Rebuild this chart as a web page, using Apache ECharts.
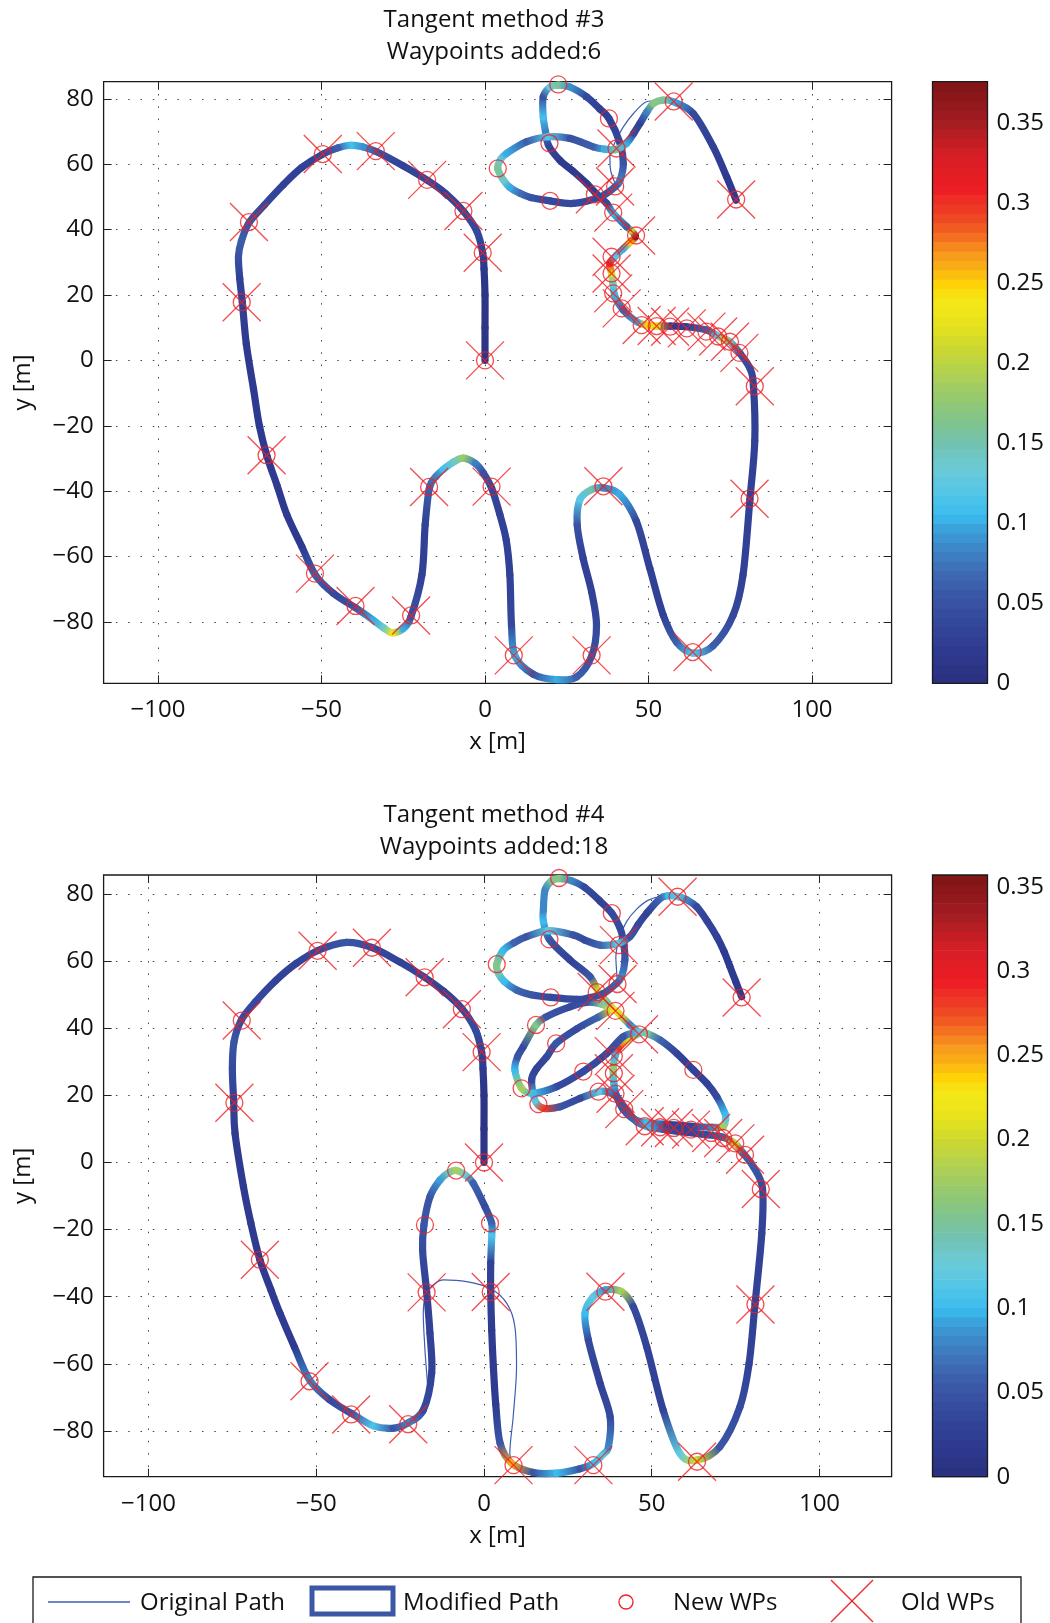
<!DOCTYPE html>
<html><head><meta charset="utf-8">
<script src="https://cdn.jsdelivr.net/npm/echarts@6/dist/echarts.min.js"></script>
<style>html,body{margin:0;padding:0;background:#fff}#chart{width:1050px;height:1623px}</style>
</head><body><div id="chart"></div>
<script>
// ---------------- DATA ----------------
const titles = ['Tangent method #3\nWaypoints added:6', 'Tangent method #4\nWaypoints added:18'];
const xTickValues = [-100, -50, 0, 50, 100];
const yTickValues = [-80, -60, -40, -20, 0, 20, 40, 60, 80];
const cbTickValues = [0, 0.05, 0.1, 0.15, 0.2, 0.25, 0.3, 0.35];
const cbMax = [0.376, 0.357];
const legendNames = ['Original Path', 'Modified Path', 'New WPs', 'Old WPs'];

// modified path, plot #3 : [x, y, value]
const pathTop = [
[0,0,0.01],[0,10,0.01],[0,20,0.01],[-0.3,28,0.015],[-0.7,32.9,0.03],[-2.5,39.5,0.04],[-6.6,45.6,0.04],[-12,51,0.03],[-17.5,55,0.04],[-25,59.5,0.03],[-33.3,63.9,0.05],[-37.5,65.3,0.09],[-41.2,65.8,0.11],[-45,65,0.06],[-49.6,63.1,0.04],[-56,59,0.03],[-61.6,53.8,0.03],[-67.5,47.5,0.04],[-72.1,42.2,0.05],[-74.5,36.5,0.06],[-75.4,31.8,0.05],[-75,25,0.03],[-74.2,17.7,0.03],[-73,5,0.02],[-70.8,-8.7,0.02],[-69,-20,0.02],[-66.7,-29.2,0.02],[-63.5,-38.5,0.02],[-60.6,-47.2,0.02],[-56,-57,0.02],[-51.9,-65.6,0.06],[-46.3,-71.3,0.04],[-39.7,-75.6,0.05],[-34.1,-79.5,0.1],[-31,-81.8,0.14],[-28.2,-83.3,0.23],[-25,-82,0.1],[-22.7,-78.5,0.05],[-19.3,-65.6,0.03],[-18.3,-50.3,0.03],[-17,-39,0.06],[-15,-35.5,0.08],[-12.7,-33.3,0.11],[-9.5,-31,0.14],[-6.6,-29.9,0.18],[-3,-31.5,0.08],[-0.5,-34.4,0.05],[2,-39,0.04],[4.5,-47,0.03],[6.5,-55,0.03],[7.6,-65.6,0.03],[8.1,-81,0.04],[9.2,-90.5,0.1],[14.8,-96,0.05],[21.9,-97.6,0.1],[28,-96.8,0.06],[32.6,-90.5,0.05],[34.1,-81,0.04],[32.6,-70.8,0.03],[30,-60.5,0.03],[28.2,-50.3,0.05],[29,-42.6,0.12],[32.6,-39.5,0.15],[36.4,-39,0.08],[41.2,-41,0.1],[46.3,-49.2,0.04],[50.4,-63.6,0.03],[54.5,-77.9,0.03],[58.6,-86.2,0.06],[63.6,-89.5,0.12],[69.8,-87.2,0.06],[75.9,-77.9,0.04],[78.9,-65.6,0.03],[81,-42.6,0.03],[82.5,-24.6,0.03],[82.1,-8,0.03],[81,-2.4,0.04],[78,2.1,0.05],[74.9,5.7,0.15],[72.5,6.8,0.2],[70.8,7.7,0.12],[67.7,9.3,0.06],[61.7,10.3,0.03],[56.6,10.5,0.02],[52.5,10.5,0.22],[49.4,10.8,0.25],[46.4,11.8,0.1],[42.3,15.4,0.06],[39.8,19.4,0.1],[39.1,23.5,0.14],[38.7,26.6,0.22],[38.2,29.7,0.31],[40,32,0.12],[42.3,34.2,0.1],[44.5,36.3,0.25],[46,37.9,0.36],[44.6,39.8,0.2],[43.3,40.9,0.06],[39.2,45,0.1],[37.2,48,0.04],[34,51,0.03],[31.1,54.1,0.02],[27,57.8,0.02],[22.8,61.3,0.02],[19.4,65.8,0.04],[18.5,70,0.08],[17.8,74.5,0.11],[17.8,80.6,0.05],[19.9,83.6,0.13],[22.4,84.2,0.16],[26,83.6,0.09],[31.1,80.6,0.04],[35,77,0.03],[37.9,74,0.03],[41.3,66.4,0.04],[42.3,60.2,0.05],[41.3,55.1,0.08],[39.8,53.1,0.06],[35.2,50,0.04],[27,48,0.04],[19.9,48.8,0.04],[14,49.8,0.05],[10.7,51.1,0.07],[7.5,53,0.1],[5.6,55.2,0.14],[3.9,58.7,0.16],[4.8,61.5,0.13],[6.6,63.3,0.1],[12.8,66.9,0.06],[19.4,68.4,0.12],[26,67.9,0.05],[33.1,65.3,0.06],[36.5,64.6,0.1],[40,64.5,0.15],[43.3,66.4,0.1],[45.5,69.5,0.04],[47.4,72.5,0.03],[49.5,76,0.08],[51.5,78.6,0.17],[54.5,79.6,0.16],[57.6,79.1,0.1],[63.7,75.5,0.04],[69.8,65.3,0.03],[73.9,56.1,0.02],[76.8,49,0.02]
];

// modified path, plot #4 : [x, y, value]
const pathBottom = [
[0,0,0.01],[0,10,0.01],[0,20,0.01],[-0.3,28,0.02],[-0.7,32.9,0.03],[-2.5,39.5,0.04],[-6.6,45.9,0.04],[-12,51,0.03],[-18,55.4,0.04],[-25,59.7,0.03],[-33.5,64.1,0.04],[-41,65.6,0.05],[-49.5,63.2,0.04],[-56,59.3,0.03],[-62,54.3,0.03],[-68,48,0.04],[-72.3,42.5,0.04],[-74.5,36,0.05],[-75,28,0.04],[-74.6,18.1,0.03],[-74.2,8.7,0.02],[-71.7,-7.2,0.02],[-69.5,-18,0.02],[-66.8,-29,0.02],[-63.5,-38,0.02],[-60.8,-45,0.02],[-56.5,-55,0.02],[-52,-64.8,0.08],[-45.9,-70.8,0.04],[-39.5,-74.8,0.05],[-33,-78.5,0.11],[-27,-79.2,0.05],[-22.6,-77.6,0.08],[-18.1,-73.8,0.04],[-15.6,-62.8,0.03],[-16.1,-50.9,0.03],[-17.1,-38.5,0.03],[-18.3,-26.1,0.04],[-17.9,-18.6,0.05],[-16.1,-10.2,0.05],[-13.1,-5.2,0.09],[-10.5,-3,0.14],[-8.3,-2.4,0.18],[-5.5,-3.8,0.13],[-3.2,-6.2,0.06],[0.3,-13.2,0.04],[2.3,-18.1,0.06],[2.3,-22.1,0.11],[2,-30,0.03],[2,-38.5,0.03],[2.3,-50,0.02],[2.8,-60.9,0.02],[3.5,-72,0.02],[4.8,-83.7,0.05],[8.3,-89.7,0.25],[14.7,-92.4,0.05],[21.7,-92.6,0.1],[28.6,-91.3,0.05],[32.6,-89.7,0.1],[35.5,-87,0.12],[37.1,-84.7,0.08],[37.6,-75.8,0.04],[34.6,-65.8,0.03],[31.1,-52.9,0.04],[30.1,-44.9,0.1],[32.6,-40,0.12],[36.1,-38,0.09],[41,-38.5,0.18],[44.5,-43,0.04],[48.5,-54.9,0.03],[53.4,-73.8,0.03],[58.4,-86.7,0.12],[63.4,-88.7,0.2],[70.3,-84.7,0.05],[76.3,-72.8,0.04],[79,-60,0.03],[80.8,-42,0.03],[82.8,-21.1,0.03],[83,-7.7,0.04],[80.3,-1.3,0.05],[77.3,2.7,0.06],[74.8,5.7,0.2],
[71,7.6,0.06],[66,8.3,0.04],[60,9,0.03],[54,9.8,0.04],[49,10.6,0.1],[45.5,12.2,0.06],[42,16.2,0.05],
[39.6,19.6,0.06],[36.6,21.1,0.08],[34.1,21.1,0.12],[28.6,19.1,0.04],[22.7,16.6,0.05],[17.7,16.2,0.28],[15.2,18.5,0.12],[14.2,24.6,0.04],[15.7,28,0.03],[18.7,31.5,0.04],[21.5,35.5,0.05],[27.6,39.8,0.04],[34,43.3,0.06],[38.5,45.5,0.23],
[41,43.5,0.2],[43.5,41,0.08],[46,38.5,0.15],
[42.5,36.5,0.2],[40,34,0.28],[39,31.5,0.1],[38.5,27.6,0.17],[38.7,23.6,0.1],[39.5,19.8,0.05],[41.5,15.8,0.05],[44.5,13,0.06],
[48.5,11.8,0.1],[54.5,11.4,0.03],[62,10.8,0.03],[68,10.5,0.08],[71.3,10.7,0.18],
[72,13,0.12],[71.8,14.7,0.1],[69.4,19.6,0.04],[66.5,23.5,0.03],[62.4,27.6,0.03],[57.5,32.5,0.03],[52.5,36.5,0.06],[48.5,38.5,0.15],[46,38.8,0.12],
[41.5,37.5,0.05],[36.6,32.5,0.04],[29.6,27.1,0.04],[21.7,22.6,0.04],[14.7,20.6,0.1],[11.2,22.1,0.18],[9.2,27.6,0.1],[10,31.5,0.05],[11.7,34.5,0.04],[15.5,41,0.16],[18.7,43.5,0.05],[25.6,46.4,0.04],[31,47.8,0.05],[35,47.2,0.15],[38.5,45.5,0.23],
[36.6,47.9,0.15],[34,51,0.22],[31.6,55.4,0.05],[25.6,60.4,0.03],[19.5,66.5,0.05],
[17.7,72,0.1],[17.7,75.3,0.08],[18.2,81.2,0.08],[20.2,84,0.15],[22.4,84.6,0.16],
[26,84,0.08],[30,82,0.04],[34.5,78,0.03],[38.1,74.3,0.04],[40.5,70,0.04],[41.5,66.3,0.04],[42,60.4,0.05],[41,55.4,0.08],[39.5,53.4,0.06],[35.6,50.4,0.05],[31,49,0.04],[27.6,48.6,0.04],[19.9,49.2,0.04],[14,50,0.05],[9.7,51.4,0.06],[6,54,0.1],[4.3,56.4,0.14],[3.8,59.1,0.16],[5.8,63.3,0.1],[9,65.5,0.06],[12.7,67.3,0.05],[19.2,69.1,0.12],[26.6,67.8,0.05],[30,66.3,0.04],[34.6,64.8,0.06],[40,65.3,0.12],[43.5,67.3,0.05],[46,71,0.04],[48.5,74.3,0.03],[52.5,78.7,0.06],[55,79.5,0.1],[57.9,79.2,0.12],[60.5,78.3,0.08],[63.4,76.2,0.04],[66.5,72,0.03],[69.4,67.3,0.03],[71.5,63,0.02],[73.3,58.4,0.02],[75,54,0.02],[76.8,49.4,0.02]
];

// original path (visible stretches; null = break)
const origTop = [[57.7,79.2],[53,79.4],[49.4,79.1],[45.4,75.5],[42.3,71.4],[39.8,66.8],[38.2,62.3],[38.4,58.2],[39.8,54.1]];
const origBottom = [[-22.6,-78],[-18.5,-73.5],[-16.6,-70.8],[-17.3,-60],[-17.6,-55.9],[-18.1,-45],[-17.1,-38.7],[-14.5,-36],[-12.1,-35],[-5.2,-35.5],[1.8,-37.5],[6.8,-42],[9.2,-48.9],[9.7,-60.9],[8.7,-75.8],[7.7,-86.7],[8.8,-90.2],null,
[57.7,79.2],[53,79.2],[49,78.2],[45.5,75.5],[42.5,71.8],[40.5,67.3],[39.3,61.3],[39.5,57.4],[39.8,53.4],null,
[39.2,45.2],[42,43],[44.5,41.2],[46.2,38.2]];

// old waypoints (same in both plots)
const oldWPs = [[0,0],[-0.7,32.9],[-6.6,45.7],[-17.7,55.2],[-33.4,64],[-49.6,63.1],[-72.2,42.3],[-74.4,17.8],[-66.8,-29],[-52,-65.2],[-39.6,-75.1],[-22.6,-78],[-17.1,-38.7],[2,-38.6],[8.8,-90.2],[32.6,-90.2],[36.2,-38.5],[63.5,-89.2],[80.9,-42.3],[82.5,-7.9],[77.8,2.3],[74.9,5.7],[71.3,7.3],[67.7,8.8],[61.7,9.8],[56.6,10.3],[52.5,10.5],[47.9,10.8],[41.8,15.9],[39.2,20.5],[38.7,26.6],[38.7,31.7],[46.2,38.2],[39.2,45.2],[33.6,50.8],[39.8,53.2],[40.2,64.8],[57.7,79.2],[76.8,49.2]];
// waypoints added by each method
const addedTop = [[22.4,84.4],[37.9,74],[19.7,66.4],[3.9,58.7],[19.9,48.8]];
const addedBottom = [[22.4,84.8],[38.1,74.3],[19.5,66.5],[3.8,59.1],[19.9,49.2],[15.5,41],[21.5,35.5],[11.2,22.1],[16.2,17.4],[29.6,27.1],[34.1,21.1],[62.4,27.6],[-8.3,-2.4],[-17.6,-18.6],[1.8,-18.1]];

// colour map (sampled from the colour bar)
const jetStops = [[0,'#2b2f7e'],[0.053,'#2e3a8f'],[0.106,'#34489c'],[0.146,'#3b57a6'],[0.186,'#3f6cb4'],[0.226,'#3d88c8'],[0.253,'#3b9dd8'],[0.279,'#3abbee'],[0.319,'#55c6e8'],[0.359,'#6ccbd6'],[0.399,'#72c2b0'],[0.439,'#82c48a'],[0.479,'#98ca6c'],[0.519,'#b2d150'],[0.559,'#cdd82e'],[0.598,'#e8e31e'],[0.638,'#f5e816'],[0.665,'#fed106'],[0.691,'#fbb116'],[0.718,'#f7941d'],[0.745,'#f36c21'],[0.771,'#ef4a24'],[0.824,'#ed1c24'],[0.878,'#d71f26'],[0.931,'#a51d22'],[1,'#7d1416']];

// ---------------- RENDER ----------------
const FONT = '"Open Sans", "Noto Sans", sans-serif';
const RED = '#ed2024';
const FS = 24;
function hexRgb(h){return [parseInt(h.substr(1,2),16),parseInt(h.substr(3,2),16),parseInt(h.substr(5,2),16)];}
function jet(f){
  f = Math.max(0, Math.min(1, f));
  for (let i = 0; i < jetStops.length - 1; i++) {
    const a = jetStops[i], b = jetStops[i+1];
    if (f <= b[0]) {
      const t = (f - a[0]) / (b[0] - a[0]);
      const ca = hexRgb(a[1]), cb = hexRgb(b[1]);
      return 'rgb(' + ca.map((c,k)=>Math.round(c + (cb[k]-c)*t)).join(',') + ')';
    }
  }
  return jetStops[jetStops.length-1][1];
}
const minus = v => String(v).replace('-', '\u2212');

const plotGrids = [
  {left: 103.6, top: 81.7, width: 788, height: 601.6, x: [-116.64, 124.34], y: [-98.75, 85.23]},
  {left: 103.6, top: 875, width: 788, height: 601.7, x: [-113.38, 121.49], y: [-93.65, 85.69]}
];
const cbLeft = 932.5, cbWidth = 55;

const grid = [], xAxis = [], yAxis = [], series = [], title = [];
const txt = {fontFamily: FONT, fontSize: FS, color: '#111'};
const noLine = {show: false, onZero: false};

plotGrids.forEach((g, p) => {
  grid.push({left: g.left, top: g.top, width: g.width, height: g.height, show: true, borderColor: '#1a1a1a', borderWidth: 1.3, backgroundColor: 'transparent'});
  const gi = grid.length - 1;
  const tick = {show: true, inside: true, length: 8, lineStyle: {color: '#222', width: 1}};
  xAxis.push({type: 'value', gridIndex: gi, position: 'bottom', min: g.x[0], max: g.x[1], splitNumber: 5,
    axisLine: noLine, axisTick: Object.assign({customValues: xTickValues}, tick),
    axisLabel: Object.assign({customValues: xTickValues, margin: 15, formatter: minus}, txt),
    splitLine: {show: true, lineStyle: {color: '#444', width: 1, type: [1.5, 10.8]}},
    name: 'x [m]', nameLocation: 'middle', nameGap: 47, nameTextStyle: txt});
  xAxis.push({type: 'value', gridIndex: gi, position: 'top', min: g.x[0], max: g.x[1],
    axisLine: noLine, axisTick: Object.assign({customValues: xTickValues}, tick), axisLabel: {show: false}, splitLine: {show: false}});
  yAxis.push({type: 'value', gridIndex: gi, position: 'left', min: g.y[0], max: g.y[1], splitNumber: 9,
    axisLine: noLine, axisTick: Object.assign({customValues: yTickValues}, tick),
    axisLabel: Object.assign({customValues: yTickValues, margin: 10, formatter: minus, padding: [8, 0, 0, 0]}, txt),
    splitLine: {show: true, lineStyle: {color: '#444', width: 1, type: [1.5, 10.8]}},
    name: 'y [m]', nameLocation: 'middle', nameGap: 68, nameRotate: 90, nameTextStyle: txt});
  yAxis.push({type: 'value', gridIndex: gi, position: 'right', min: g.y[0], max: g.y[1],
    axisLine: noLine, axisTick: Object.assign({customValues: yTickValues}, tick), axisLabel: {show: false}, splitLine: {show: false}});
});

// colour bars
plotGrids.forEach((g, p) => {
  grid.push({left: cbLeft, top: g.top, width: cbWidth, height: g.height, show: true, borderColor: '#1a1a1a', borderWidth: 1.3, backgroundColor: 'transparent', z: 5});
  const gi = grid.length - 1;
  const tick = {show: true, inside: true, length: 6, lineStyle: {color: '#222', width: 1}};
  xAxis.push({type: 'value', gridIndex: gi, min: 0, max: 1, show: false});
  yAxis.push({type: 'value', gridIndex: gi, position: 'right', min: 0, max: cbMax[p], interval: 0.05,
    axisLine: noLine, axisTick: Object.assign({customValues: cbTickValues}, tick),
    axisLabel: Object.assign({customValues: cbTickValues, margin: 9, padding: [8, 0, 0, 0]}, txt), splitLine: {show: false}});
  yAxis.push({type: 'value', gridIndex: gi, position: 'left', min: 0, max: cbMax[p], interval: 0.05,
    axisLine: noLine, axisTick: Object.assign({customValues: cbTickValues}, tick), axisLabel: {show: false}, splitLine: {show: false}});
});

const paths = [pathTop, pathBottom];
const origs = [origTop, origBottom];
const added = [addedTop, addedBottom];

paths.forEach((path, p) => {
  const xi = p * 2, yi = p * 2, cmax = cbMax[p];
  // original path
  series.push({type: 'line', xAxisIndex: xi, yAxisIndex: yi, data: origs[p], smooth: 0.3, showSymbol: false, connectNulls: false,
    lineStyle: {color: '#3d5fb0', width: 1.2}, z: 2, silent: true, animation: false});
  // modified path, coloured by value
  series.push({type: 'custom', coordinateSystem: 'cartesian2d', xAxisIndex: xi, yAxisIndex: yi, data: path, z: 3, silent: true,
    encode: {x: 0, y: 1},
    renderItem: function (params, api) {
      const i = params.dataIndex, n = path.length;
      if (i >= n - 1) return null;
      const P = k => api.coord([path[k][0], path[k][1]]);
      const p0 = P(Math.max(i - 1, 0)), p1 = P(i), p2 = P(i + 1), p3 = P(Math.min(i + 2, n - 1));
      const t = 1 / 6;
      const c1 = [p1[0] + (p2[0] - p0[0]) * t, p1[1] + (p2[1] - p0[1]) * t];
      const c2 = [p2[0] - (p3[0] - p1[0]) * t, p2[1] - (p3[1] - p1[1]) * t];
      const col1 = jet(path[i][2] / cmax), col2 = jet(path[i + 1][2] / cmax);
      return {type: 'bezierCurve',
        shape: {x1: p1[0], y1: p1[1], x2: p2[0], y2: p2[1], cpx1: c1[0], cpy1: c1[1], cpx2: c2[0], cpy2: c2[1]},
        style: {fill: 'none', lineWidth: 7.2, lineCap: 'round', lineJoin: 'round',
          stroke: new echarts.graphic.LinearGradient(p1[0], p1[1], p2[0] + 0.01, p2[1] + 0.01, [{offset: 0, color: col1}, {offset: 1, color: col2}], true)}};
    }});
  // new waypoints (circles) = old + added
  series.push({type: 'scatter', xAxisIndex: xi, yAxisIndex: yi, data: oldWPs.concat(added[p]), symbol: 'circle', symbolSize: 17,
    itemStyle: {color: 'transparent', borderColor: RED, borderWidth: 1.3}, z: 5, silent: true});
  // old waypoints (crosses)
  series.push({type: 'scatter', xAxisIndex: xi, yAxisIndex: yi, data: oldWPs, symbol: 'path://M0,0L20,20M20,0L0,20', symbolSize: 38,
    itemStyle: {color: 'transparent', borderColor: RED, borderWidth: 1.3}, z: 6, silent: true});
});

// colour bar bands
const nBands = 64;
const bandData = [];
for (let k = 0; k < nBands; k++) bandData.push([0.5, k]);
[0, 1].forEach(p => {
  const cmax = cbMax[p];
  series.push({type: 'custom', coordinateSystem: 'cartesian2d', xAxisIndex: 4 + p, yAxisIndex: 4 + p * 2, data: bandData, silent: true, z: 1,
    renderItem: function (params, api) {
      const k = params.dataIndex;
      const a = api.coord([0, k / nBands * cmax]), b = api.coord([1, (k + 1) / nBands * cmax]);
      return {type: 'rect', shape: {x: a[0], y: b[1], width: b[0] - a[0], height: a[1] - b[1] + 0.6},
        style: {fill: jet((k + 0.5) / nBands)}};
    }});
});

title.push({text: titles[0], left: 494, top: 4, textAlign: 'center', padding: 0, textStyle: {fontFamily: FONT, fontSize: FS, fontWeight: 'normal', color: '#111', lineHeight: 32}});
title.push({text: titles[1], left: 494, top: 799, textAlign: 'center', padding: 0, textStyle: {fontFamily: FONT, fontSize: FS, fontWeight: 'normal', color: '#111', lineHeight: 32}});

// legend box
const LY = 1603;
const legendFont = {fontFamily: FONT, fontSize: FS, fill: '#111', verticalAlign: 'middle', align: 'left'};
const graphic = [
  {type: 'rect', shape: {x: 33, y: 1577, width: 988, height: 80}, style: {fill: '#fff', stroke: '#1a1a1a', lineWidth: 1.3}, z: 10},
  {type: 'line', shape: {x1: 48, y1: LY - 1, x2: 130, y2: LY - 1}, style: {stroke: '#3d5fb0', lineWidth: 1.3}, z: 11},
  {type: 'text', x: 140, y: LY, style: Object.assign({text: legendNames[0]}, legendFont), z: 11},
  {type: 'rect', shape: {x: 312, y: 1588, width: 81, height: 26}, style: {fill: 'none', stroke: '#3b57a6', lineWidth: 5}, z: 11},
  {type: 'text', x: 403, y: LY, style: Object.assign({text: legendNames[1]}, legendFont), z: 11},
  {type: 'circle', shape: {cx: 626, cy: LY - 1, r: 7}, style: {fill: 'none', stroke: RED, lineWidth: 1.3}, z: 11},
  {type: 'text', x: 673, y: LY, style: Object.assign({text: legendNames[2]}, legendFont), z: 11},
  {type: 'polyline', shape: {points: [[831, 1580], [873, 1622]]}, style: {stroke: RED, lineWidth: 1.3, fill: 'none'}, z: 11},
  {type: 'polyline', shape: {points: [[873, 1580], [831, 1622]]}, style: {stroke: RED, lineWidth: 1.3, fill: 'none'}, z: 11},
  {type: 'text', x: 901, y: LY, style: Object.assign({text: legendNames[3]}, legendFont), z: 11}
];

const chart = echarts.init(document.getElementById('chart'), null, {renderer: 'canvas'});
chart.setOption({animation: false, backgroundColor: '#fff', title, grid, xAxis, yAxis, series, graphic});
</script>
</body></html>
